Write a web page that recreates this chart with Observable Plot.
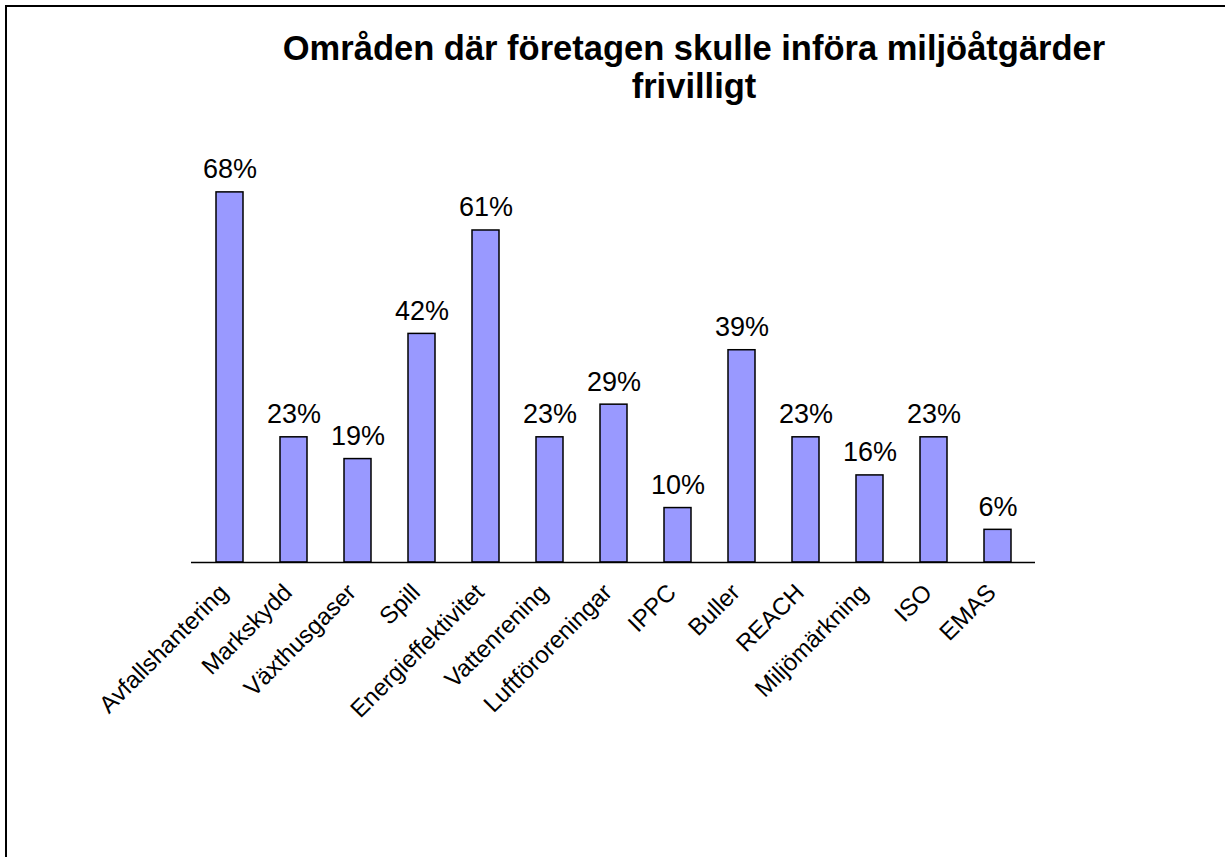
<!DOCTYPE html>
<html><head><meta charset="utf-8">
<script src="https://cdn.jsdelivr.net/npm/d3@7"></script>
<script src="https://cdn.jsdelivr.net/npm/@observablehq/plot@0.6"></script>
<style>
body{margin:0;background:#fff;width:1225px;height:857px;overflow:hidden;position:relative;font-family:"Liberation Sans",Arial,sans-serif;color:#000;}
#frame{position:absolute;left:5px;top:5px;right:-50px;bottom:-50px;border-left:2px solid #000;border-top:2px solid #000;}
#title{position:absolute;top:29px;left:0;width:1225px;box-sizing:border-box;padding-left:163px;text-align:center;font-weight:bold;font-size:34.5px;line-height:38px;white-space:nowrap;}
#chart{position:absolute;left:0;top:110px;}
</style></head><body>
<div id="frame"></div>
<div id="title">Områden där företagen skulle införa miljöåtgärder<br>frivilligt</div>
<div id="chart"></div>
<script>
const categories = ["Avfallshantering","Markskydd","Växthusgaser","Spill","Energieffektivitet","Vattenrening","Luftföroreningar","IPPC","Buller","REACH","Miljömärkning","ISO","EMAS"];
const values = [68, 23, 19, 42, 61, 23, 29, 10, 39, 23, 16, 23, 6];
const data = categories.map((c, i) => ({category: c, value: values[i]}));
const chart = Plot.plot({
  width: 1225, height: 747,
  marginLeft: 191, marginRight: 190, marginTop: 71, marginBottom: 295,
  style: {fontFamily: "Liberation Sans, Arial, sans-serif", background: "transparent", overflow: "visible", color: "#000"},
  x: {domain: categories, paddingInner: 0.584, paddingOuter: 0.292, label: null},
  y: {domain: [0, 70], axis: null},
  marks: [
    Plot.barY(data, {x: "category", y: "value", fill: "#9999ff", stroke: "#000", strokeWidth: 1.5}),
    Plot.ruleY([0], {stroke: "#000", strokeWidth: 1.5}),
    Plot.text(data, {x: "category", y: "value", text: d => d.value + "%", dy: -14, lineAnchor: "bottom", fontSize: 27, fill: "#000"}),
    Plot.axisX({tickSize: 0, tickPadding: 26, tickRotate: -45, fontSize: 24, dx: -6, label: null, fill: "#000"})
  ]
});
document.getElementById("chart").append(chart);
</script>
</body></html>
